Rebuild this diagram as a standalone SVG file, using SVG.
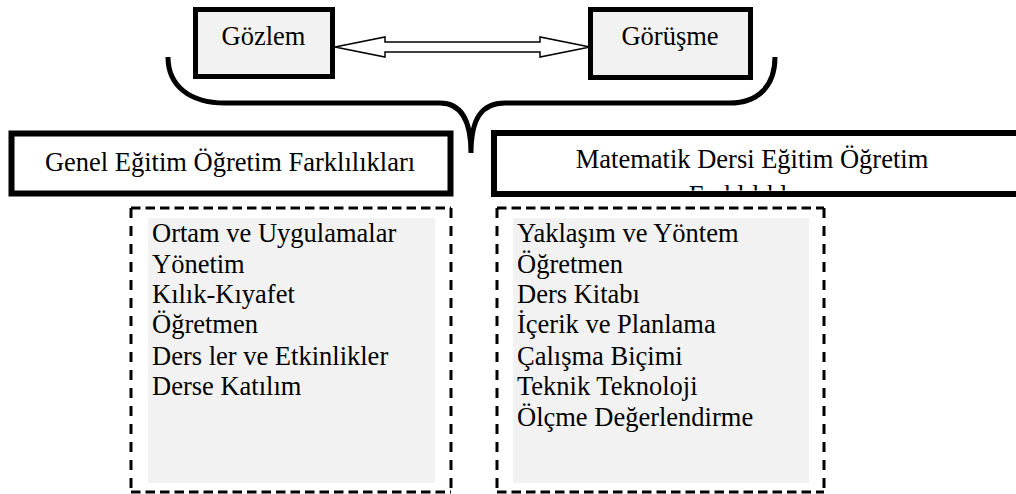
<svg xmlns="http://www.w3.org/2000/svg" width="1016" height="494" viewBox="0 0 1016 494">
<style>
text{font-family:"Liberation Serif","Times New Roman",serif;font-size:26.5px;fill:#000}
.mid{text-anchor:middle}
.gbox{fill:#f2f2f2;stroke:#000;stroke-width:5}
.tbox{fill:#fff;stroke:#000;stroke-width:6}
.dh{fill:none;stroke:#000;stroke-width:3;stroke-dasharray:9.5 5}
.dv{fill:none;stroke:#000;stroke-width:3;stroke-dasharray:10 8}
.fill{fill:#f2f2f2}
</style>
<defs>
<clipPath id="clipR"><rect x="497" y="136" width="519" height="54.5"/></clipPath>
</defs>
<g id="gozlem">
<rect class="gbox" x="195.5" y="9.5" width="137" height="67"/>
<text class="mid" x="263.5" y="45">Gözlem</text>
</g>
<g id="gorusme">
<rect class="gbox" x="590.5" y="9.5" width="160" height="68"/>
<text class="mid" x="670" y="45">Görüşme</text>
</g>
<g id="connectors">
<polygon points="335,47 385,37 385,42 540,42 540,37 590,47 540,57 540,52 385,52 385,57" fill="#fff" stroke="#000" stroke-width="1.5" stroke-linejoin="miter"/>
<path d="M168,57 C168,86 190,103 225,103 L440,103 C460,103 471,118 471,153 C471,118 482,103 505,103 L730,103 C758,103 775,86 775,57" fill="none" stroke="#000" stroke-width="5"/>
</g>
<g id="genel">
<rect class="tbox" x="11.5" y="133.5" width="439" height="60"/>
<text class="mid" x="230" y="171">Genel Eğitim Öğretim Farklılıkları</text>
</g>
<g id="matematik">
<rect class="tbox" x="494" y="133" width="540" height="61"/>
<text class="mid" x="752" y="168">Matematik Dersi Eğitim Öğretim</text>
<text class="mid" x="752" y="204" clip-path="url(#clipR)">Farklılıkları</text>
</g>
<g id="genel-list">
<rect class="fill" x="148" y="218" width="287" height="265"/>
<line class="dh" x1="131" y1="208" x2="451" y2="208"/>
<line class="dh" x1="131" y1="492" x2="451" y2="492"/>
<line class="dv" x1="131" y1="208" x2="131" y2="492"/>
<line class="dv" x1="451" y1="208" x2="451" y2="492"/>
<text x="152" y="242">Ortam ve Uygulamalar</text>
<text x="152" y="273">Yönetim</text>
<text x="152" y="303">Kılık-Kıyafet</text>
<text x="152" y="333">Öğretmen</text>
<text x="152" y="365">Ders ler ve Etkinlikler</text>
<text x="152" y="395">Derse Katılım</text>
</g>
<g id="matematik-list">
<rect class="fill" x="513" y="218" width="296" height="265"/>
<line class="dh" x1="497" y1="208" x2="824" y2="208"/>
<line class="dh" x1="497" y1="492" x2="824" y2="492"/>
<line class="dv" x1="497" y1="208" x2="497" y2="492"/>
<line class="dv" x1="824" y1="208" x2="824" y2="492"/>
<text x="517" y="242">Yaklaşım ve Yöntem</text>
<text x="517" y="273">Öğretmen</text>
<text x="517" y="303">Ders Kitabı</text>
<text x="517" y="333">İçerik ve Planlama</text>
<text x="517" y="365">Çalışma Biçimi</text>
<text x="517" y="395">Teknik Teknoloji</text>
<text x="517" y="426">Ölçme Değerlendirme</text>
</g>
</svg>
